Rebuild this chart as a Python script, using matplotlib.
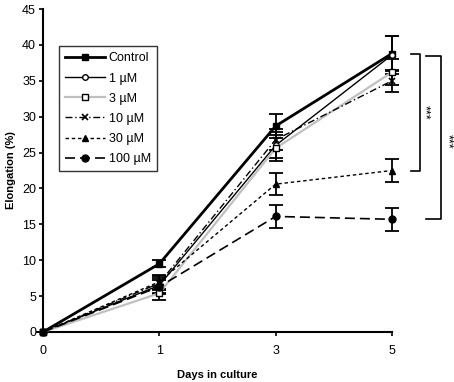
import matplotlib
matplotlib.use("Agg")
import matplotlib.pyplot as plt

plt.rcParams['font.family'] = ['Liberation Sans', 'DejaVu Sans']

days = ["0", "1", "3", "5"]
series = ["Control", "1 µM", "3 µM", "10 µM", "30 µM", "100 µM"]
control = [0, 9.5, 28.7, 38.8]
control_err = [0, 0.5, 1.7, 2.4]
um1 = [0, 6.5, 26.0, 38.6]
um1_err = [0, 1.0, 1.8, 2.6]
um3 = [0, 5.4, 25.6, 36.2]
um3_err = [0, 1.0, 1.8, 1.8]
um10 = [0, 6.8, 26.8, 35.0]
um10_err = [0, 1.0, 1.5, 1.5]
um30 = [0, 7.0, 20.6, 22.5]
um30_err = [0, 1.0, 1.5, 1.6]
um100 = [0, 6.3, 16.1, 15.7]
um100_err = [0, 1.0, 1.6, 1.6]

fig = plt.figure(figsize=(4.54, 3.82), dpi=100)
ax = fig.add_axes([43/454, 50/382, 349/454, 323/382])
x = list(range(len(days)))

styles = [
    (control, control_err, dict(color='black', lw=2.0, ls='-', marker='s', ms=5, mfc='black', mec='black')),
    (um1, um1_err, dict(color='black', lw=1.0, ls='-', marker='o', ms=4, mfc='white', mec='black')),
    (um3, um3_err, dict(color='#c0c0c0', lw=1.6, ls='-', marker='s', ms=4.5, mfc='white', mec='black')),
    (um10, um10_err, dict(color='black', lw=1.0, ls=(0, (5, 2, 1, 2)), marker='x', ms=5, mec='black', mew=1.2)),
    (um30, um30_err, dict(color='black', lw=1.0, ls=(0, (2.5, 2)), marker='^', ms=5, mfc='black', mec='black')),
    (um100, um100_err, dict(color='black', lw=1.2, ls=(0, (6, 3)), marker='o', ms=5, mfc='black', mec='black')),
]

handles = []
for name, (vals, errs, st) in zip(series, styles):
    ax.errorbar(x, vals, yerr=errs, fmt='none', ecolor='black', elinewidth=1.3,
                capsize=5, capthick=1.3, clip_on=False, zorder=2)
    h, = ax.plot(x, vals, label=name, clip_on=False, zorder=3, **st)
    handles.append(h)

ax.set_xlim(0, 3)
ax.set_ylim(0, 45)
ax.set_yticks(range(0, 46, 5))
ax.set_xticks(x)
ax.set_xticklabels(days)
ax.spines['top'].set_visible(False)
ax.spines['right'].set_visible(False)
ax.spines['left'].set_linewidth(1.5)
ax.spines['bottom'].set_linewidth(1.5)
ax.tick_params(axis='both', direction='out', length=3, width=1.2, labelsize=9, pad=2)
ax.tick_params(axis='x', pad=6)
ax.set_xlabel('Days in culture', fontsize=8, fontweight='bold', labelpad=10)
ax.set_ylabel('Elongation (%)', fontsize=8, fontweight='bold', labelpad=4)

leg = ax.legend(handles=handles, loc='upper left', bbox_to_anchor=(0.045, 0.885),
                frameon=True, fancybox=False, fontsize=9, handlelength=3.2,
                borderpad=0.5, labelspacing=0.65, handletextpad=0.3, borderaxespad=0)
leg.get_frame().set_edgecolor('black')
leg.get_frame().set_linewidth(1.0)

# significance brackets
ax.plot([3.163, 3.24, 3.24, 3.163], [38.7, 38.7, 22.5, 22.5], color='black', lw=1.2, clip_on=False)
ax.text(3.275, 30.6, '***', rotation=270, ha='center', va='center', fontsize=9)
ax.plot([3.29, 3.42, 3.42, 3.29], [38.5, 38.5, 15.8, 15.8], color='black', lw=1.2, clip_on=False)
ax.text(3.475, 26.5, '***', rotation=270, ha='center', va='center', fontsize=9)

fig.savefig('out.png', dpi=100)
